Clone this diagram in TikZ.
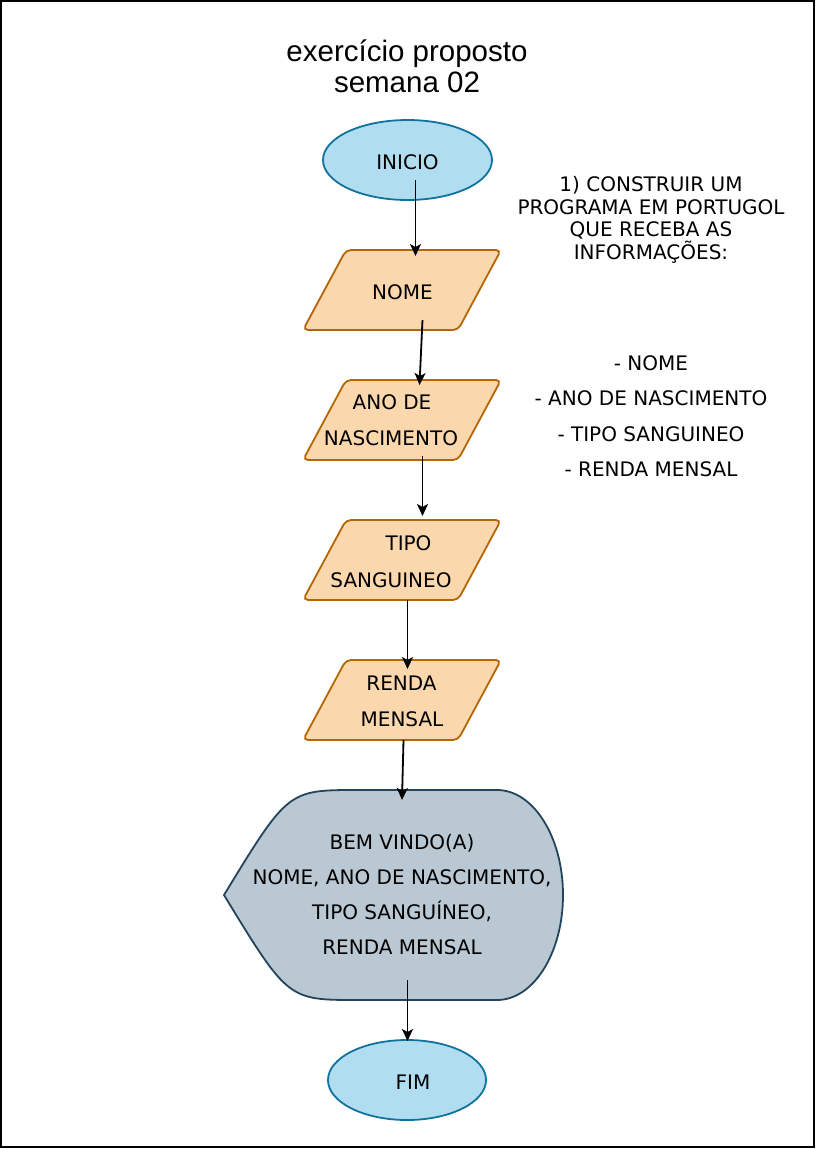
\documentclass[tikz,border=0pt]{standalone}
\usepackage{fontspec}
\usetikzlibrary{arrows.meta,shapes.geometric}
\newfontfamily\lblfont{DejaVu Sans}
\newfontfamily\ttlfont{Liberation Sans}
\definecolor{startfill}{HTML}{B1DDF0}
\definecolor{startdraw}{HTML}{10739E}
\definecolor{iofill}{HTML}{FAD7AC}
\definecolor{iodraw}{HTML}{B46504}
\definecolor{dispfill}{HTML}{BAC8D3}
\definecolor{dispdraw}{HTML}{23445D}
\tikzset{
  txt/.style={font=\lblfont\fontsize{20}{24}\selectfont, anchor=base, inner sep=0pt, text=black},
  ttl/.style={font=\ttlfont\fontsize{29.5}{34}\selectfont, anchor=base, inner sep=0pt, text=black},
  term/.style={ellipse, fill=startfill, draw=startdraw, line width=1.8pt, inner sep=0pt},
  iobox/.style={fill=iofill, draw=iodraw, line width=1.8pt, rounded corners=5pt},
  disp/.style={fill=dispfill, draw=dispdraw, line width=1.8pt},
  flow/.style={line width=1.8pt, -{Stealth[length=12pt,width=11pt,inset=3pt]}}
}
\begin{document}
\begin{tikzpicture}[x=1pt,y=-1pt]
\useasboundingbox (0,0) rectangle (816,1149);
\draw[line width=1.2pt] (1,1) rectangle (814,1147);

% title
\node[ttl] (t1) at (407,61) {exercício proposto};
\node[ttl] (t2) at (407,92) {semana 02};

% start / end
\node[term, minimum width=169pt, minimum height=80pt] (inicio) at (407.5,160) {};
\node[txt] (inicioT) at (407.5,169) {INICIO};
\node[term, minimum width=158pt, minimum height=80pt] (fim) at (407,1080) {};
\node[txt] (fimT) at (413,1089) {FIM};

% parallelograms
\draw[iobox] (303,330) -- (346,250) -- (501,250) -- (458,330) -- cycle;
\draw[iobox] (303,460) -- (346,380) -- (501,380) -- (458,460) -- cycle;
\draw[iobox] (303,600) -- (346,520) -- (501,520) -- (458,600) -- cycle;
\draw[iobox] (303,740) -- (346,660) -- (501,660) -- (458,740) -- cycle;
\node[txt] (nomeT) at (402.5,299) {NOME};
\node[txt] (anoT1) at (392,409) {ANO DE};
\node[txt] (anoT2) at (391,445) {NASCIMENTO};
\node[txt] (tipoT1) at (408.5,550) {TIPO};
\node[txt] (tipoT2) at (391,587) {SANGUINEO};
\node[txt] (rendaT1) at (401.5,690) {RENDA};
\node[txt] (rendaT2) at (402,726) {MENSAL};

% display
\draw[disp] (224,895) .. controls (288,790) .. (358,790) -- (497,790)
  .. controls (533.4,790) and (563,837) .. (563,895)
  .. controls (563,953) and (533.4,1000) .. (497,1000)
  -- (358,1000) .. controls (288,1000) .. (224,895) -- cycle;
\node[txt] (d1) at (402,849) {BEM VINDO(A)};
\node[txt] (d2) at (402,884) {NOME, ANO DE NASCIMENTO,};
\node[txt] (d3) at (402,919) {TIPO SANGUÍNEO,};
\node[txt] (d4) at (402,954) {RENDA MENSAL};

% right text
\node[txt] (r1) at (651,191.5) {1) CONSTRUIR UM};
\node[txt] (r2) at (651,214) {PROGRAMA EM PORTUGOL};
\node[txt] (r3) at (651,236.5) {QUE RECEBA AS};
\node[txt] (r4) at (651,259) {INFORMAÇÕES:};
\node[txt] (b1) at (651,370) {- NOME};
\node[txt] (b2) at (651,405.7) {- ANO DE NASCIMENTO};
\node[txt] (b3) at (651,441) {- TIPO SANGUINEO};
\node[txt] (b4) at (651,476.7) {- RENDA MENSAL};

% connectors
\coordinate (a1s) at (415.5,180); \coordinate (a1e) at (415.5,256);
\coordinate (a2s) at (422.5,320); \coordinate (a2e) at (419.5,385);
\coordinate (a3s) at (422.5,456); \coordinate (a3e) at (422.5,516);
\coordinate (a4s) at (407.5,600); \coordinate (a4e) at (407.5,669);
\coordinate (a5s) at (403.5,740); \coordinate (a5e) at (402,800);
\coordinate (a6s) at (407.5,980); \coordinate (a6e) at (407.5,1041);
\draw[flow] (a1s) -- (a1e);
\draw[flow] (a2s) -- (a2e);
\draw[flow] (a3s) -- (a3e);
\draw[flow] (a4s) -- (a4e);
\draw[flow] (a5s) -- (a5e);
\draw[flow] (a6s) -- (a6e);
\end{tikzpicture}
\end{document}
